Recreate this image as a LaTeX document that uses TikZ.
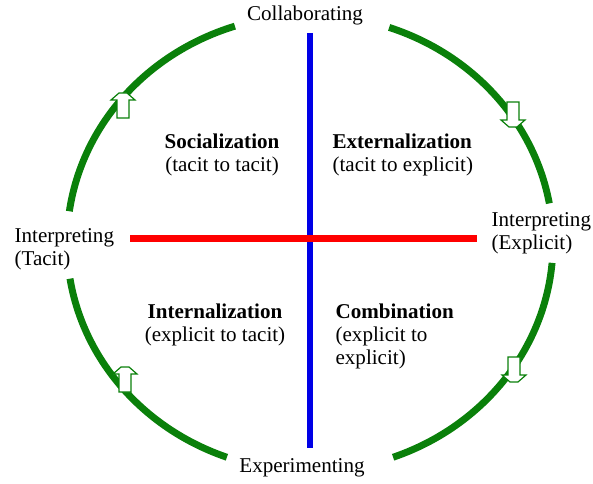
\documentclass[tikz,border=0pt]{standalone}
\usepackage{fontspec}
\setmainfont{Liberation Serif}
\usepackage{tikz}
\usetikzlibrary{positioning,calc}
\definecolor{Cycle}{HTML}{0A800A}
\definecolor{Axis}{HTML}{0000E6}
\definecolor{Split}{HTML}{FF0000}
\tikzset{
 lbl/.style={font=\fontsize{15.8}{17.25}\selectfont,inner sep=1pt,align=center},
 quad/.style={lbl,align=left},
 cyc/.style={draw=Cycle,line width=5.2pt},
 axis/.style={line width=5pt},
 hollow/.pic={\draw[Cycle,fill=white,line width=0.9pt]
   (-6,-13) -- (6,-13) -- (6,5) -- (12,5) -- (4,12) -- (-4,12) -- (-12,5) -- (-6,5) -- cycle;}
}

\begin{document}
\begin{tikzpicture}[x=0.75pt,y=0.75pt]
\useasboundingbox (0,0) rectangle (593,483);
\coordinate (C) at (310,240);
% the cycle, four arcs
\draw[cyc] (C) ++(108:243 and 228) arc[start angle=108,end angle=172,x radius=243,y radius=228];
\draw[cyc] (C) ++(71:243 and 228) arc[start angle=71,end angle=10,x radius=243,y radius=228];
\draw[cyc] (C) ++(-5:243 and 228) arc[start angle=-5,end angle=-70,x radius=243,y radius=228];
\draw[cyc] (C) ++(189:243 and 228) arc[start angle=189,end angle=250,x radius=243,y radius=228];
% direction marks
\pic at (123,378) {hollow};
\pic[rotate=180] at (513,368) {hollow};
\pic[rotate=180] at (514,113) {hollow};
\pic at (125,104) {hollow};
% axes
\coordinate (up) at (310,450);
\coordinate (down) at (310,35);
\coordinate (lt) at (130,244.5);
\coordinate (rt) at (477,244.5);
\draw[axis,Axis] (up) -- (down);
\draw[axis,Split] (lt) -- (rt);
% labels round the cycle
\node[lbl] (collab) at (305,468) {Collaborating};
\node[lbl] (exper) at (302,15) {Experimenting};
\node[quad,anchor=west] (itacit) at (13,234) {Interpreting\\(Tacit)};
\node[quad,anchor=west] (iexpl) at (490,249.5) {Interpreting\\(Explicit)};
% quadrants
\node[lbl] (soc) at (222,328.5) {\textbf{Socialization}\\(tacit to tacit)};
\node[quad,anchor=west] (ext) at (331,328.5) {\textbf{Externalization}\\(tacit to explicit)};
\node[lbl] (int) at (215,158.5) {\textbf{Internalization}\\(explicit to tacit)};
\node[quad,anchor=west] (comb) at (334,147) {\textbf{Combination}\\(explicit to\\explicit)};
\end{tikzpicture}
\end{document}
